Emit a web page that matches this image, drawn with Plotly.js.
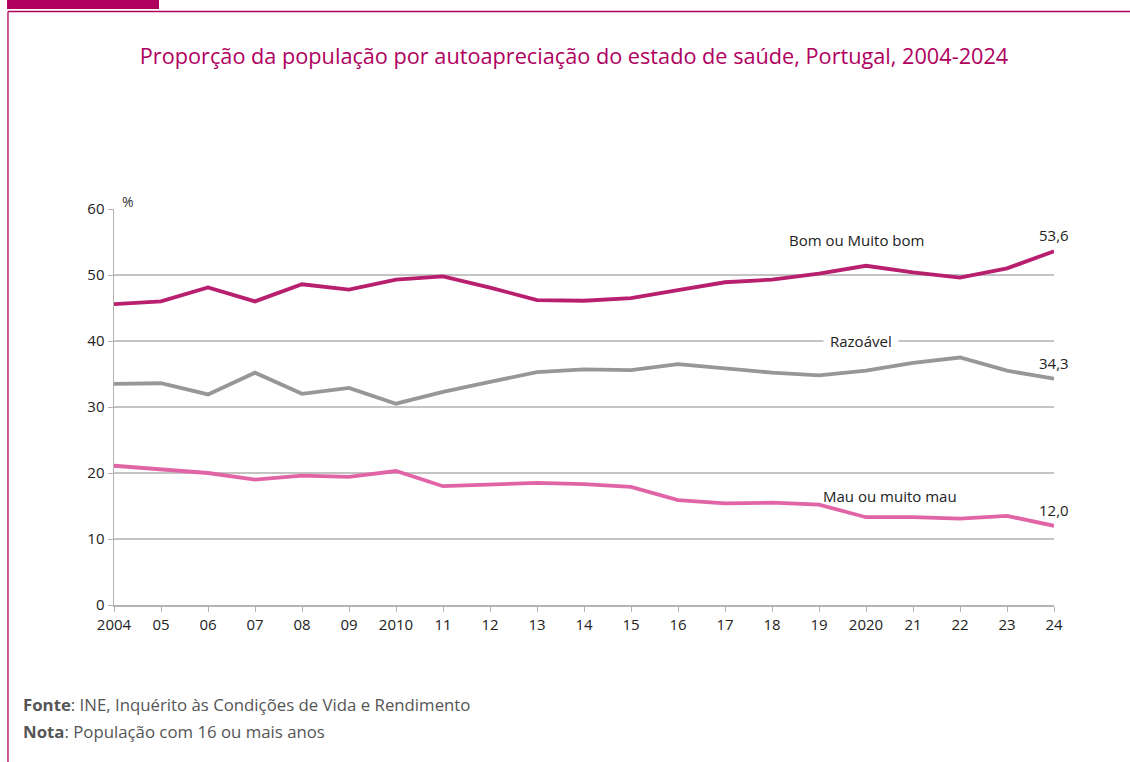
<!DOCTYPE html>
<html>
<head>
<meta charset="utf-8">
<script src="https://cdn.plot.ly/plotly-3.0.1.min.js"></script>
<style>
html,body{margin:0;padding:0;background:#fff;}
#chart{width:1130px;height:762px;}
</style>
</head>
<body>
<div id="chart"></div>
<script>
var years = [2004,2005,2006,2007,2008,2009,2010,2011,2012,2013,2014,2015,2016,2017,2018,2019,2020,2021,2022,2023,2024];
var tickLabels = ["2004","05","06","07","08","09","2010","11","12","13","14","15","16","17","18","19","2020","21","22","23","24"];
var bomMuitoBom = [45.6,46.0,48.1,46.0,48.6,47.8,49.3,49.8,48.1,46.2,46.1,46.5,47.7,48.9,49.3,50.2,51.4,50.4,49.6,51.0,53.6];
var razoavel = [33.5,33.6,31.9,35.2,32.0,32.9,30.5,32.3,33.8,35.3,35.7,35.6,36.5,35.9,35.2,34.8,35.5,36.7,37.5,35.5,34.3];
var mauMuitoMau = [21.1,20.6,20.0,19.0,19.6,19.4,20.3,18.0,18.2,18.5,18.3,17.9,15.9,15.4,15.5,15.2,13.3,13.3,13.1,13.5,12.0];

var cBom = "#b81f6e", cRaz = "#979797", cMau = "#e165a6", mag = "#b0005f";
var font = "Open Sans, Noto Sans, sans-serif";
var traces = [
  {x: years, y: bomMuitoBom, mode: "lines", line: {color: cBom, width: 3.8}, hoverinfo: "x+y"},
  {x: years, y: razoavel, mode: "lines", line: {color: cRaz, width: 3.8}, hoverinfo: "x+y"},
  {x: years, y: mauMuitoMau, mode: "lines", line: {color: cMau, width: 3.8}, hoverinfo: "x+y"}
];
function fmt(v){return v.toFixed(1).replace(".", ",");}
var last = years.length - 1;
var tf = {family: font, size: 15, color: "#222"};
var layout = {
  width: 1130, height: 762,
  margin: {l: 114, r: 76, t: 209, b: 157},
  paper_bgcolor: "#fff", plot_bgcolor: "#fff",
  showlegend: false,
  title: {text: "Proporção da população por autoapreciação do estado de saúde, Portugal, 2004-2024",
          font: {family: font, size: 21.7, color: mag}, x: 0.508, xref: "container", xanchor: "center", y: 0.926, yanchor: "middle"},
  xaxis: {range: [2004, 2024], tickvals: years, ticktext: tickLabels, showgrid: false, zeroline: false,
          showline: true, linecolor: "#b3b3b3", linewidth: 1.5, ticks: "outside", ticklen: 5, tickcolor: "#b3b3b3",
          tickfont: tf, fixedrange: true},
  yaxis: {range: [0, 60], tickvals: [0,10,20,30,40,50,60], showgrid: true, gridcolor: "#c4c4c4", gridwidth: 1.2, zeroline: false,
          showline: true, linecolor: "#b3b3b3", linewidth: 1.5, ticks: "outside", ticklen: 5, tickcolor: "#b3b3b3",
          tickfont: tf, fixedrange: true},
  annotations: [
    {x: 2004.3, y: 60, xref: "x", yref: "y", text: "%", showarrow: false, font: {family: font, size: 14, color: "#333"},
     bgcolor: "#fff", xanchor: "center", yanchor: "bottom", yshift: -6, borderpad: 3},
    {x: 2019.9, y: 40, xref: "x", yref: "y", text: "Razoável", showarrow: false, font: tf, bgcolor: "#fff", borderpad: 6},
    {x: 2019.8, y: 55.3, xref: "x", yref: "y", text: "Bom ou Muito bom", showarrow: false, font: tf},
    {x: 2020.5, y: 16.5, xref: "x", yref: "y", text: "Mau ou muito mau", showarrow: false, font: tf},
    {x: years[last], y: bomMuitoBom[last], xref: "x", yref: "y", text: fmt(bomMuitoBom[last]), showarrow: false, font: tf, yanchor: "bottom", yshift: 4},
    {x: years[last], y: razoavel[last], xref: "x", yref: "y", text: fmt(razoavel[last]), showarrow: false, font: tf, yanchor: "bottom", yshift: 4},
    {x: years[last], y: mauMuitoMau[last], xref: "x", yref: "y", text: fmt(mauMuitoMau[last]), showarrow: false, font: tf, yanchor: "bottom", yshift: 4},
    {x: -0.0989, y: -0.251, xref: "paper", yref: "paper", xanchor: "left", yanchor: "middle", showarrow: false, align: "left",
     text: "<b>Fonte</b>: INE, Inquérito às Condições de Vida e Rendimento", font: {family: font, size: 16.8, color: "#555"}},
    {x: -0.0989, y: -0.319, xref: "paper", yref: "paper", xanchor: "left", yanchor: "middle", showarrow: false, align: "left",
     text: "<b>Nota</b>: População com 16 ou mais anos", font: {family: font, size: 16.8, color: "#555"}}
  ],
  shapes: [
    {type: "line", xref: "paper", yref: "paper", x0: -0.1128, x1: 1.09, y0: 1.4987, y1: 1.4987, line: {color: mag, width: 1.3}},
    {type: "line", xref: "paper", yref: "paper", x0: -0.1128, x1: -0.1128, y0: 1.4987, y1: -0.42, line: {color: mag, width: 1.3}},
    {type: "rect", xref: "paper", yref: "paper", x0: -0.1138, x1: 0.0479, y0: 1.5051, y1: 1.54, fillcolor: mag, line: {width: 0}}
  ]
};
Plotly.newPlot("chart", traces, layout, {displayModeBar: false, staticPlot: true});
</script>
</body>
</html>
